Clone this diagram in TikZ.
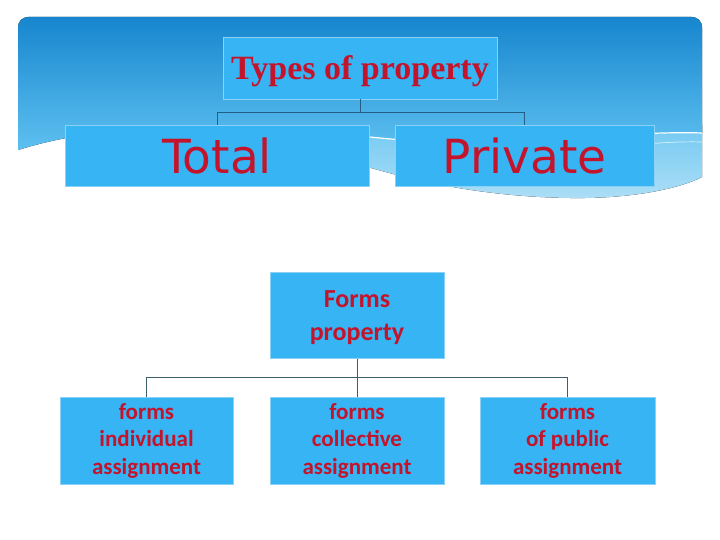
\documentclass[tikz,border=0pt]{standalone}
\usepackage{fontspec}
\setmainfont{Liberation Serif}
\newfontfamily\dvfont{DejaVu Sans}
\newfontfamily\carfont{Carlito}
\definecolor{boxblue}{HTML}{36B4F4}
\definecolor{boxedge}{HTML}{8CD2F6}
\definecolor{txtred}{HTML}{C4142C}
\definecolor{bantop}{HTML}{1786CE}
\definecolor{banbot}{HTML}{5EC0F0}
\definecolor{wavetop}{HTML}{72C9F2}
\definecolor{wavebot}{HTML}{ADDEF6}
\definecolor{connblue}{HTML}{235E86}
\definecolor{conngray}{HTML}{3E5E70}
\begin{document}
\begin{tikzpicture}[x=1pt,y=-1pt,
  bx/.style={draw=boxedge, line width=0.8pt, fill=boxblue, inner sep=0pt, align=center, text=txtred},
  conn/.style={draw=connblue, line width=1pt},
  conn2/.style={draw=conngray, line width=1pt}]
\useasboundingbox[fill=white] (0,0) rectangle (720,540);
% light wave layer
\fill[top color=wavetop, bottom color=wavebot]
  (240,125) .. controls (320,150) and (420,196) .. (570,198)
  .. controls (640,199) and (685,186) .. (702,177) -- (702,125) -- cycle;
% banner
\fill[top color=bantop, bottom color=banbot]
  [rounded corners=10pt] (18,150) -- (18,17) -- (702,17) [sharp corners] -- (702,133)
  .. controls (620,130) and (500,150) .. (380,138)
  .. controls (250,125) and (120,118) .. (18,150) -- cycle;
\draw[white, line width=1.2pt] (702,133) .. controls (620,130) and (500,150) .. (380,138)
  .. controls (330,133) and (300,131) .. (280,130);
\draw[white, line width=0.7pt, opacity=0.7] (702,142) .. controls (640,140) and (560,158) .. (440,150);
% top tree
\node[bx, minimum width=274pt, minimum height=62pt] (types) at (360,68) {};
\node[text=txtred, inner sep=0pt, font=\bfseries\fontsize{34}{38}\selectfont] (typestext) at (360,71) {Types of property};
\node[bx, minimum width=304pt, minimum height=61pt, font=\dvfont\fontsize{47}{52}\selectfont] (total) at (217,155.5) {Total};
\node[bx, minimum width=259pt, minimum height=61pt, font=\dvfont\fontsize{47}{52}\selectfont] (private) at (524.5,155.5) {Private};
\draw[conn] (types.south) -- ++(0,13) coordinate (j1);
\draw[conn] (j1) -| (total.north);
\draw[conn] (j1) -| (private.north);
% bottom tree
\node[bx, minimum width=174pt, minimum height=86pt] (forms) at (357,315.5) {};
\node[text=txtred, inner sep=0pt, align=center, font=\carfont\bfseries\fontsize{26}{33}\selectfont] (formstext) at (357,318) {Forms\\property};
\node[bx, minimum width=173pt, minimum height=87pt, font=\carfont\bfseries\fontsize{23}{27.5}\selectfont] (indiv) at (146.5,440.5) {forms\\individual\\assignment};
\node[bx, minimum width=174pt, minimum height=87pt, font=\carfont\bfseries\fontsize{23}{27.5}\selectfont] (coll) at (357,440.5) {forms\\collective\\assignment};
\node[bx, minimum width=175pt, minimum height=87pt, font=\carfont\bfseries\fontsize{23}{27.5}\selectfont] (public) at (567.5,440.5) {forms\\of public\\assignment};
\draw[conn2] (forms.south) -- ++(0,18.5) coordinate (j2);
\draw[conn2] (j2) -- (coll.north);
\draw[conn2] (j2) -| (indiv.north);
\draw[conn2] (j2) -| (public.north);
\end{tikzpicture}
\end{document}
